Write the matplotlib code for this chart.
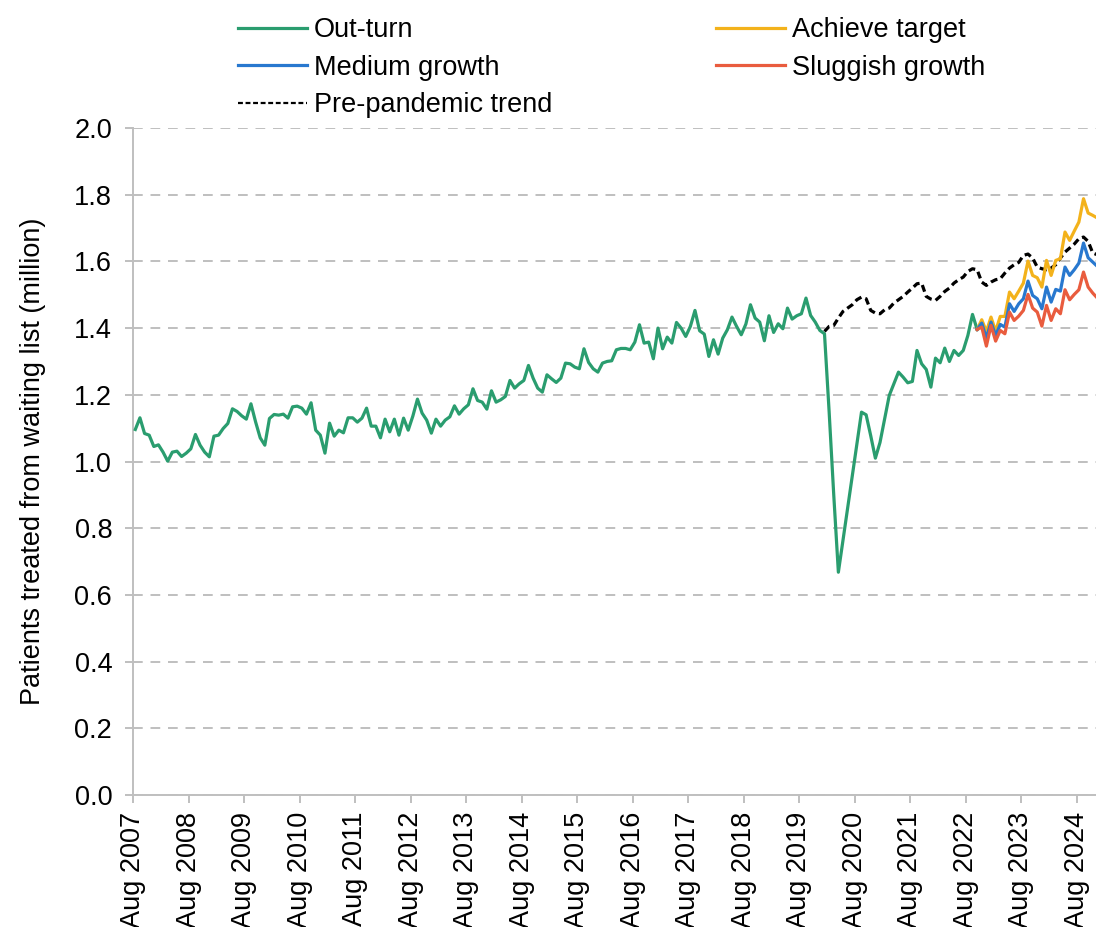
import matplotlib
matplotlib.use("Agg")
import matplotlib.pyplot as plt
from matplotlib.lines import Line2D
import numpy as np
import pandas as pd

plt.rcParams["font.family"] = ["Liberation Sans", "DejaVu Sans"]

# monthly values, million patients
OUTTURN_START = "2007-08"
out_turn = [
    1.096, 1.131, 1.084, 1.079, 1.045, 1.050, 1.028, 1.001, 1.028, 1.031, 1.015, 1.025,
    1.038, 1.081, 1.049, 1.028, 1.014, 1.076, 1.079, 1.099, 1.114, 1.158, 1.150, 1.137,
    1.127, 1.173, 1.119, 1.071, 1.049, 1.129, 1.141, 1.139, 1.142, 1.130, 1.164, 1.166,
    1.160, 1.142, 1.176, 1.094, 1.079, 1.025, 1.115, 1.076, 1.094, 1.086, 1.131, 1.131,
    1.118, 1.130, 1.160, 1.106, 1.106, 1.071, 1.127, 1.089, 1.127, 1.079, 1.130, 1.094,
    1.136, 1.187, 1.145, 1.124, 1.085, 1.127, 1.106, 1.124, 1.134, 1.167, 1.142, 1.158,
    1.170, 1.218, 1.183, 1.178, 1.157, 1.212, 1.178, 1.185, 1.195, 1.243, 1.220, 1.233,
    1.243, 1.288, 1.250, 1.220, 1.208, 1.260, 1.248, 1.237, 1.250, 1.295, 1.293, 1.283,
    1.278, 1.338, 1.297, 1.278, 1.268, 1.295, 1.300, 1.302, 1.335, 1.339, 1.339, 1.335,
    1.358, 1.410, 1.355, 1.358, 1.308, 1.400, 1.338, 1.373, 1.355, 1.417, 1.400, 1.375,
    1.405, 1.453, 1.392, 1.382, 1.315, 1.365, 1.322, 1.370, 1.395, 1.433, 1.405, 1.380,
    1.412, 1.470, 1.430, 1.418, 1.362, 1.437, 1.387, 1.413, 1.398, 1.460, 1.427, 1.437,
    1.443, 1.490, 1.438, 1.418, 1.393, 1.383, 1.150, 0.900, 0.668, 0.764, 0.860, 0.956,
    1.052, 1.148, 1.140, 1.077, 1.010, 1.057, 1.128, 1.198, 1.233, 1.268, 1.253, 1.236,
    1.240, 1.333, 1.293, 1.276, 1.223, 1.310, 1.296, 1.340, 1.300, 1.333, 1.318, 1.333,
    1.378, 1.441, 1.396,
]

TREND_START = "2020-01"
pre_pandemic = [
    1.390, 1.405, 1.408, 1.430, 1.450, 1.460, 1.470, 1.485, 1.493, 1.488, 1.453, 1.445,
    1.443, 1.455, 1.460, 1.475, 1.485, 1.495, 1.508, 1.520, 1.533, 1.535, 1.495, 1.487,
    1.483, 1.495, 1.510, 1.520, 1.535, 1.545, 1.553, 1.570, 1.578, 1.575, 1.538, 1.528,
    1.538, 1.545, 1.548, 1.565, 1.580, 1.590, 1.597, 1.618, 1.622, 1.610, 1.583, 1.578,
    1.575, 1.580, 1.590, 1.610, 1.628, 1.640, 1.652, 1.668, 1.673, 1.660, 1.625, 1.620,
]

PROJ_START = "2022-10"
achieve_target = [
    1.396, 1.425, 1.390, 1.433, 1.391, 1.435, 1.435, 1.508, 1.488, 1.511, 1.535, 1.601,
    1.558, 1.551, 1.523, 1.603, 1.558, 1.603, 1.608, 1.688, 1.663, 1.691, 1.718, 1.788,
    1.745, 1.738, 1.730,
]
medium_growth = [
    1.396, 1.415, 1.370, 1.418, 1.378, 1.411, 1.403, 1.473, 1.450, 1.473, 1.488, 1.541,
    1.498, 1.488, 1.458, 1.523, 1.478, 1.516, 1.511, 1.583, 1.558, 1.575, 1.595, 1.655,
    1.611, 1.598, 1.585,
]
sluggish_growth = [
    1.396, 1.403, 1.346, 1.408, 1.361, 1.393, 1.383, 1.448, 1.423, 1.436, 1.453, 1.501,
    1.460, 1.448, 1.406, 1.468, 1.423, 1.458, 1.443, 1.515, 1.485, 1.501, 1.515, 1.568,
    1.523, 1.505, 1.490,
]

tick_labels = [f"Aug {y}" for y in range(2007, 2025)]

GREEN = "#2a9d6f"
YELLOW = "#f3b21b"
BLUE = "#2878cf"
RED = "#e95c3e"
GRID = "#bfbfbf"
FS = 19.5


def month_offset(start):
    return (pd.Period(start, "M") - pd.Period(OUTTURN_START, "M")).n


def xs(start, values):
    return np.arange(len(values)) + month_offset(start)


fig = plt.figure(figsize=(10.96, 9.27), dpi=100)
ax = fig.add_axes([133 / 1096, 132 / 927, 1 - 133 / 1096, 667 / 927])

lw = 2.3
ax.plot(xs(OUTTURN_START, out_turn), out_turn, color=GREEN, lw=lw, zorder=3)
ax.plot(xs(TREND_START, pre_pandemic), pre_pandemic, color="black", lw=lw,
        ls=(0, (2.2, 1.3)), zorder=4)
ax.plot(xs(PROJ_START, achieve_target), achieve_target, color=YELLOW, lw=lw, zorder=5)
ax.plot(xs(PROJ_START, medium_growth), medium_growth, color=BLUE, lw=lw, zorder=6)
ax.plot(xs(PROJ_START, sluggish_growth), sluggish_growth, color=RED, lw=lw, zorder=7)

ax.set_ylim(0, 2.0)
ax.set_yticks(np.arange(0, 2.01, 0.2))
ax.set_yticklabels([f"{v:.1f}" for v in np.arange(0, 2.01, 0.2)])
ax.set_xlim(-0.5, 207.7)
ax.set_xticks(np.arange(len(tick_labels)) * 12 - 0.5)
ax.set_xticklabels(tick_labels, rotation=90)

ax.yaxis.grid(True, color=GRID, ls=(0, (5, 4)), lw=1.4)
ax.set_axisbelow(True)
for side in ["top", "right"]:
    ax.spines[side].set_visible(False)
for side in ["left", "bottom"]:
    ax.spines[side].set_color(GRID)
    ax.spines[side].set_linewidth(1.4)
ax.tick_params(axis="both", colors=GRID, labelcolor="black", labelsize=FS,
               width=1.4, length=6)
ax.tick_params(axis="y", pad=9)
ax.tick_params(axis="x", pad=6)
ax.set_ylabel("Patients treated from waiting list (million)", fontsize=FS,
              labelpad=20)


def handle(color, dashed=False):
    if dashed:
        return Line2D([], [], color="black", lw=1.6, ls=(0, (2.2, 1.2)))
    return Line2D([], [], color=color, lw=2.3)


leg_kw = dict(frameon=False, fontsize=FS, handlelength=2.55, handletextpad=0.25,
              labelspacing=0.43, loc="upper left", borderaxespad=0, borderpad=0)
fig.legend([handle(GREEN), handle(BLUE), handle(None, True)],
           ["Out-turn", "Medium growth", "Pre-pandemic trend"],
           bbox_to_anchor=(238 / 1096, 1 - 17 / 927), **leg_kw)
fig.legend([handle(YELLOW), handle(RED)],
           ["Achieve target", "Sluggish growth"],
           bbox_to_anchor=(716 / 1096, 1 - 17 / 927), **leg_kw)

fig.savefig("out.png", dpi=100)
